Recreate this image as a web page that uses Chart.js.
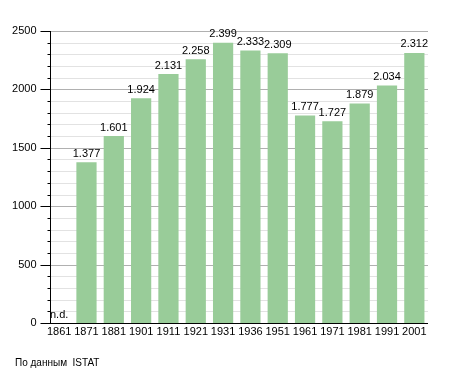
<!DOCTYPE html>
<html>
<head>
<meta charset="utf-8">
<script src="https://cdn.jsdelivr.net/npm/chart.js@4/dist/chart.umd.min.js"></script>
<style>
  body { margin: 0; background: #fff; }
  #wrap { position: relative; width: 455px; height: 373px; }
</style>
</head>
<body>
<div id="wrap"><canvas id="chart"></canvas></div>
<script>
const years = ["1861", "1871", "1881", "1901", "1911", "1921", "1931", "1936", "1951", "1961", "1971", "1981", "1991", "2001"];
const population = [null, 1377, 1601, 1924, 2131, 2258, 2399, 2333, 2309, 1777, 1727, 1879, 2034, 2312];
const yTicks = [0, 500, 1000, 1500, 2000, 2500];
const sourceNote = "По данным  ISTAT";

const FONT = "'Liberation Sans', Arial, sans-serif";

function fmt(v) {
    return v.toString().replace(/\B(?=(\d{3})+(?!\d))/g, ".");
}

// griglia, asse e tacche disegnati a mano
const gridPlugin = {
    id: "grid",
    beforeDatasetsDraw(chart) {
        const ctx = chart.ctx;
        const y = chart.scales.y;
        const axisX = 50.5;
        const right = chart.chartArea.right;
        ctx.save();
        ctx.lineWidth = 1;
        for (let v = 100; v <= 2500; v += 100) {
            const py = Math.round(y.getPixelForValue(v)) + 0.5;
            ctx.strokeStyle = v % 500 === 0 ? "#b0b0b0" : "#e2e2e2";
            ctx.beginPath();
            ctx.moveTo(axisX, py);
            ctx.lineTo(right, py);
            ctx.stroke();
            ctx.strokeStyle = "#000";
            ctx.beginPath();
            ctx.moveTo(v % 500 === 0 ? axisX - 10 : axisX - 3, py);
            ctx.lineTo(axisX, py);
            ctx.stroke();
        }
        ctx.restore();
    },
    afterDatasetsDraw(chart) {
        const ctx = chart.ctx;
        const y = chart.scales.y;
        const x = chart.scales.x;
        const axisX = 50.5;
        const base = Math.round(y.getPixelForValue(0)) + 0.5;
        ctx.save();
        ctx.strokeStyle = "#000";
        ctx.lineWidth = 1;
        ctx.beginPath();
        ctx.moveTo(axisX, Math.round(y.getPixelForValue(2500)));
        ctx.lineTo(axisX, base);
        ctx.moveTo(axisX - 10, base);
        ctx.lineTo(chart.chartArea.right, base);
        ctx.stroke();

        // etichette dei valori
        ctx.font = "11px " + FONT;
        ctx.fillStyle = "#000";
        ctx.textAlign = "center";
        ctx.textBaseline = "bottom";
        const meta = chart.getDatasetMeta(0);
        population.forEach((v, i) => {
            if (v === null) {
                ctx.fillText("n.d.", x.getPixelForValue(i), base - 3);
            } else {
                ctx.fillText(fmt(v), meta.data[i].x, meta.data[i].y - 3);
            }
        });

        ctx.textAlign = "left";
        ctx.font = "10px " + FONT;
        ctx.fillText(sourceNote, 15, 368);
        ctx.restore();
    }
};

new Chart(document.getElementById("chart"), {
    type: "bar",
    data: {
        labels: years,
        datasets: [{
            data: population,
            backgroundColor: "#99cc99",
            borderWidth: 0,
            barPercentage: 0.74,
            categoryPercentage: 1
        }]
    },
    options: {
        responsive: true,
        maintainAspectRatio: false,
        animation: false,
        layout: { padding: { top: 31, right: 27, bottom: 0, left: 0 } },
        plugins: {
            legend: { display: false },
            tooltip: { enabled: false }
        },
        scales: {
            x: {
                grid: { display: false, drawTicks: false },
                border: { display: false },
                ticks: {
                    color: "#000",
                    font: { family: FONT, size: 11 },
                    padding: 2,
                    maxRotation: 0,
                    autoSkip: false
                },
                afterFit(scale) { scale.height = 50; }
            },
            y: {
                min: 0,
                max: 2500,
                afterBuildTicks(scale) {
                    scale.ticks = yTicks.map(v => ({ value: v }));
                },
                grid: { display: false, drawTicks: false },
                border: { display: false },
                ticks: {
                    color: "#000",
                    font: { family: FONT, size: 11 },
                    padding: 9,
                    callback: v => String(v)
                },
                afterFit(scale) { scale.width = 45.5; }
            }
        }
    },
    plugins: [gridPlugin]
});
</script>
</body>
</html>
